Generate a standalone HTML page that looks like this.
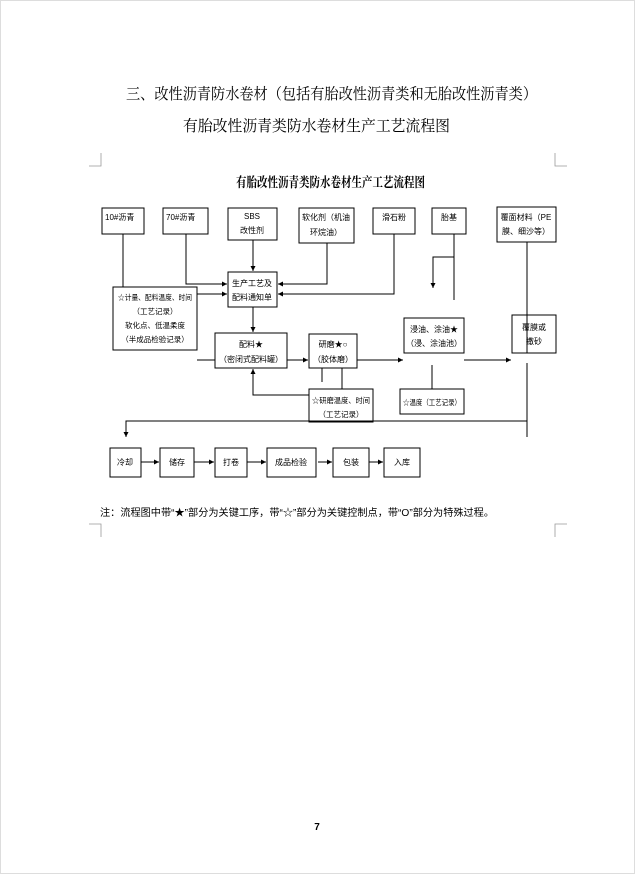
<!DOCTYPE html>
<html><head><meta charset="utf-8"><style>
html,body{margin:0;padding:0;background:#fff;}
svg{display:block;}
text{font-family:"Liberation Sans","Noto Sans CJK SC",sans-serif;fill:#000;}
text.s{font-family:"Liberation Serif","Noto Serif CJK SC",serif;}
</style></head><body>
<svg width="635" height="874" viewBox="0 0 635 874" xmlns="http://www.w3.org/2000/svg">
<defs><marker id="a" markerWidth="6" markerHeight="6" refX="5" refY="3" orient="auto" markerUnits="userSpaceOnUse"><path d="M0,0.5 L5,3 L0,5.5z" fill="#000"/></marker></defs>
<rect x="0.5" y="0.5" width="634" height="873" fill="#fff" stroke="#ddd"/>
<text class="s" x="126" y="99" font-size="15.5" textLength="411" lengthAdjust="spacingAndGlyphs">三、改性沥青防水卷材（包括有胎改性沥青类和无胎改性沥青类）</text>
<text class="s" x="183" y="131" font-size="15.5" textLength="267" lengthAdjust="spacingAndGlyphs">有胎改性沥青类防水卷材生产工艺流程图</text>
<g stroke="#999" fill="none" stroke-width="0.8">
<path d="M101,153 V166 H89"/><path d="M555,153 V166 H567"/>
<path d="M101,537 V524 H89"/><path d="M555,537 V524 H567"/>
</g>
<text class="s" x="236" y="187" font-size="13.5" font-weight="bold" textLength="189" lengthAdjust="spacingAndGlyphs">有胎改性沥青类防水卷材生产工艺流程图</text>
<g fill="none" stroke="#000" stroke-width="1">
<rect x="102" y="208" width="42" height="26"/>
<rect x="163" y="208" width="45" height="26"/>
<rect x="228" y="208" width="49" height="32"/>
<rect x="299" y="208" width="55" height="35"/>
<rect x="373" y="208" width="42" height="26"/>
<rect x="432" y="208" width="34" height="26"/>
<rect x="497" y="207" width="59" height="35"/>
<rect x="228" y="272" width="49" height="35"/>
<rect x="113" y="287" width="84" height="63"/>
<rect x="215" y="333" width="72" height="35"/>
<rect x="309" y="334" width="48" height="34"/>
<rect x="404" y="318" width="60" height="35"/>
<rect x="512" y="315" width="44" height="38"/>
<rect x="309" y="389" width="64" height="33"/>
<rect x="400" y="389" width="64" height="25"/>
<rect x="110" y="448" width="31" height="29"/>
<rect x="160" y="448" width="34" height="29"/>
<rect x="215" y="448" width="32" height="29"/>
<rect x="267" y="448" width="49" height="29"/>
<rect x="333" y="448" width="36" height="29"/>
<rect x="384" y="448" width="36" height="29"/>
<path d="M123,234 V287"/>
<path d="M186,234 V284 H227" marker-end="url(#a)"/>
<path d="M197,294 H227" marker-end="url(#a)"/>
<path d="M253,240 V271" marker-end="url(#a)"/>
<path d="M327,243 V284 H278" marker-end="url(#a)"/>
<path d="M394,234 V294 H278" marker-end="url(#a)"/>
<path d="M253,307 V332" marker-end="url(#a)"/>
<path d="M454,234 V300"/>
<path d="M454,257 H433 V288" marker-end="url(#a)"/>
<path d="M527,242 V353"/>
<path d="M197,360 H215"/>
<path d="M287,360 H308" marker-end="url(#a)"/>
<path d="M357,360 H403" marker-end="url(#a)"/>
<path d="M464,360 H511" marker-end="url(#a)"/>
<path d="M322,368 V382"/>
<path d="M342,368 V389"/>
<path d="M309,395 H253 V369" marker-end="url(#a)"/>
<path d="M432,389 V365"/>
<path d="M527,363 V437"/>
<path d="M527,421 H126 V437" marker-end="url(#a)"/>
<path d="M141,462 H159" marker-end="url(#a)"/>
<path d="M194,462 H214" marker-end="url(#a)"/>
<path d="M247,462 H266" marker-end="url(#a)"/>
<path d="M318,462 H332" marker-end="url(#a)"/>
<path d="M369,462 H383" marker-end="url(#a)"/>
</g>
<g font-size="8">
<text x="105" y="220">10#沥青</text>
<text x="166" y="220">70#沥青</text>
<text x="252" y="219" text-anchor="middle">SBS</text>
<text x="252" y="233" text-anchor="middle">改性剂</text>
<text x="326" y="220" text-anchor="middle">软化剂（机油</text>
<text x="326" y="235" text-anchor="middle">环烷油）</text>
<text x="394" y="220" text-anchor="middle">滑石粉</text>
<text x="449" y="220" text-anchor="middle">胎基</text>
<text x="526" y="220" text-anchor="middle">覆面材料（PE</text>
<text x="526" y="234" text-anchor="middle">膜、细沙等）</text>
<text x="252" y="286" text-anchor="middle">生产工艺及</text>
<text x="252" y="300" text-anchor="middle">配料通知单</text>
<text x="118" y="300" font-size="7.5" textLength="74" lengthAdjust="spacingAndGlyphs">☆计量、配料温度、时间</text>
<text x="155" y="314" text-anchor="middle" font-size="7.5">（工艺记录）</text>
<text x="155" y="328" text-anchor="middle" font-size="7.5">软化点、低温柔度</text>
<text x="155" y="342" text-anchor="middle" font-size="7.5">（半成品检验记录）</text>
<text x="251" y="347" text-anchor="middle">配料★</text>
<text x="251" y="362" text-anchor="middle">（密闭式配料罐）</text>
<text x="333" y="347" text-anchor="middle">研磨★○</text>
<text x="333" y="362" text-anchor="middle">（胶体磨）</text>
<text x="434" y="332" text-anchor="middle">浸油、涂油★</text>
<text x="434" y="346" text-anchor="middle">（浸、涂油池）</text>
<text x="534" y="330" text-anchor="middle">覆膜或</text>
<text x="534" y="344" text-anchor="middle">撒砂</text>
<text x="312" y="403" font-size="7.5" textLength="58" lengthAdjust="spacingAndGlyphs">☆研磨温度、时间</text>
<text x="341" y="417" text-anchor="middle" font-size="7.5">（工艺记录）</text>
<text x="403" y="405" font-size="7.5" textLength="58" lengthAdjust="spacingAndGlyphs">☆温度（工艺记录）</text>
<text x="125" y="465" text-anchor="middle">冷却</text>
<text x="177" y="465" text-anchor="middle">储存</text>
<text x="231" y="465" text-anchor="middle">打卷</text>
<text x="291" y="465" text-anchor="middle">成品检验</text>
<text x="351" y="465" text-anchor="middle">包装</text>
<text x="402" y="465" text-anchor="middle">入库</text>
</g>
<text x="100" y="516" font-size="10" textLength="394" lengthAdjust="spacingAndGlyphs">注：流程图中带“★”部分为关键工序，带“☆”部分为关键控制点，带“O”部分为特殊过程。</text>
<text x="317" y="830" font-size="10" text-anchor="middle" font-weight="bold">7</text>
</svg>
</body></html>
